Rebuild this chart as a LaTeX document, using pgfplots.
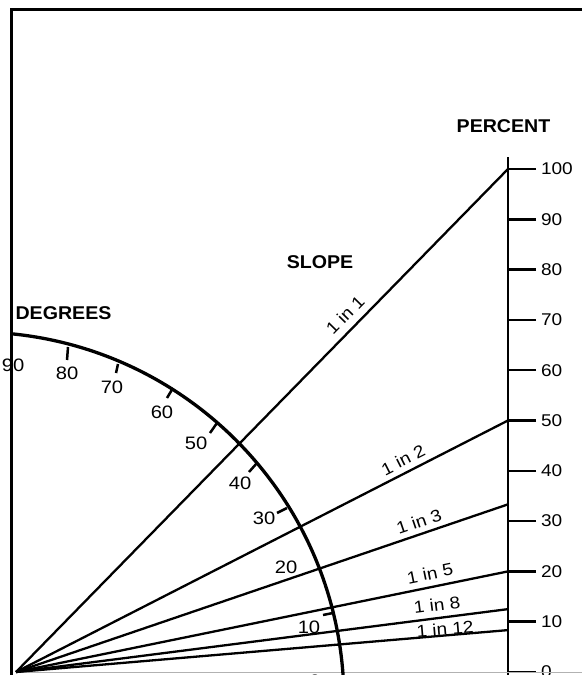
\documentclass[border=0pt]{standalone}
\usepackage{fontspec}
\setmainfont{Liberation Sans}
\newfontfamily\widesans[FakeStretch=1.12]{Liberation Sans}
\newfontfamily\headsans[FakeStretch=1.06]{Liberation Sans}
\usepackage{pgfplots}
\pgfplotsset{compat=1.18}
\begin{document}
\begin{tikzpicture}
\begin{axis}[
  x=4.92pt, y=5.03pt,
  xmin=-3.3, xmax=100, ymin=-2, ymax=102.4,
  axis x line=none, axis y line=right,
  axis line style={-, line width=2.5pt},
  ytick={0,10,...,100},
  tick align=outside,
  major tick length=28pt,
  ytick style={line width=2.5pt, black},
  yticklabel style={font=\widesans\fontsize{17}{17}\selectfont, anchor=west, xshift=1.5pt},
  /pgf/number format/assume math mode=true,
  clip=false,
]
% frame
\addplot[black, line width=2.5pt] coordinates {(118,131.71) (-0.915,131.71) (-0.915,-3)};
% baseline
\addplot[gray!60, line width=1.5pt] coordinates {(0,-0.1) (118,-0.1)};
% slope lines
\addplot[black, line width=2.3pt] coordinates {(0,0) (100,100)};
\addplot[black, line width=2.3pt] coordinates {(0,0) (100,50)};
\addplot[black, line width=2.3pt] coordinates {(0,0) (100,33.33)};
\addplot[black, line width=2.3pt] coordinates {(0,0) (100,20)};
\addplot[black, line width=2.3pt] coordinates {(0,0) (100,12.5)};
\addplot[black, line width=2.3pt] coordinates {(0,0) (100,8.33)};
% degree arc
\draw[line width=3.3pt] (axis cs:-0.915,67.24) arc[start angle=84.32, end angle=3.6, radius=369pt];
% degree ticks
\addplot[black, line width=2.5pt] coordinates {(10.57,64.61) (10.37,62.03)};
\addplot[black, line width=2.5pt] coordinates {(20.73,61.23) (20.33,59.44)};
\addplot[black, line width=2.5pt] coordinates {(31.91,56.46) (30.69,54.47)};
\addplot[black, line width=2.5pt] coordinates {(40.85,49.50) (39.43,47.51)};
\addplot[black, line width=2.5pt] coordinates {(48.98,41.55) (47.36,39.76)};
\addplot[black, line width=2.5pt] coordinates {(55.08,32.60) (53.05,31.61)};
\addplot[black, line width=2.5pt] coordinates {(64.43,11.73) (62.40,11.33)};
% degree labels
\begin{scope}[every node/.style={font=\widesans\fontsize{18}{18}\selectfont, inner sep=0pt}]
\node at (axis cs:-0.6,61.03) {90};
\node at (axis cs:10.37,59.44) {80};
\node at (axis cs:19.51,56.66) {70};
\node at (axis cs:29.67,51.69) {60};
\node at (axis cs:36.59,45.53) {50};
\node at (axis cs:45.53,37.57) {40};
\node at (axis cs:50.41,30.62) {30};
\node at (axis cs:54.88,20.87) {20};
\node at (axis cs:59.55,8.95) {10};
\node at (axis cs:60.77,-1.79) {0};
\end{scope}
% slope labels
\begin{scope}[every node/.style={font=\widesans\fontsize{17}{17}\selectfont, inner sep=0pt}]
\node[rotate=45.6] at (axis cs:66.87,70.98) {1 in 1};
\node[rotate=26.9] at (axis cs:78.66,42.15) {1 in 2};
\node[rotate=18.8] at (axis cs:81.91,29.92) {1 in 3};
\node[rotate=11.6] at (axis cs:84.15,19.58) {1 in 5};
\node[rotate=7.2] at (axis cs:85.57,13.32) {1 in 8};
\node[rotate=4.8] at (axis cs:87.20,8.55) {1 in 12};
\end{scope}
% headings
\begin{scope}[every node/.style={font=\headsans\bfseries\fontsize{18.5}{18.5}\selectfont, inner sep=0pt, anchor=base}]
\node at (axis cs:9.65,69.98) {DEGREES};
\node at (axis cs:61.79,80.26) {SLOPE};
\node at (axis cs:99.09,107.2) {PERCENT};
\end{scope}
\coordinate (bl) at (axis cs:-3.252,-0.596);
\coordinate (tr) at (axis cs:115.04,133.6);
\end{axis}
\pgfresetboundingbox
\path[use as bounding box] (bl) rectangle (tr);
\end{tikzpicture}
\end{document}
